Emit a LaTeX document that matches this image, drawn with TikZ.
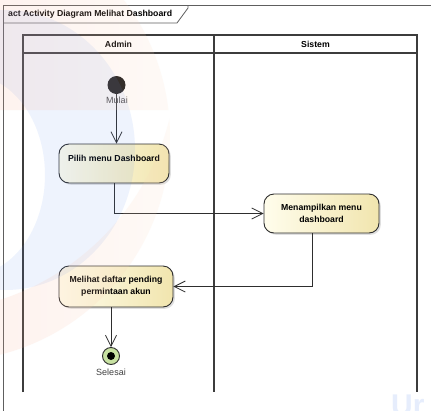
\documentclass[tikz,border=0pt]{standalone}
\usepackage{fontspec}
\setmainfont{Liberation Sans}
\usetikzlibrary{arrows.meta,shadows}

\definecolor{actlight}{HTML}{FFFDEC}
\definecolor{actdark}{HTML}{F1E5AE}
\definecolor{edgecol}{HTML}{2E2E2E}
\definecolor{lanecol}{HTML}{3C3C3C}
\definecolor{framecol}{HTML}{5E5E5E}
\definecolor{labelcol}{HTML}{404040}
\definecolor{finalfill}{HTML}{C8E2A2}
\definecolor{wmblue}{HTML}{5C8CF0}
\definecolor{wmred}{HTML}{F04A2A}
\definecolor{wmorange}{HTML}{F7B070}

\begin{document}
\begin{tikzpicture}[x=1pt,y=-1pt,
  action/.style={draw=edgecol, line width=0.9pt, rounded corners=10pt,
    left color=actlight, right color=actdark,
    drop shadow={shadow xshift=1.8pt, shadow yshift=-1.8pt, opacity=0.25},
    font=\bfseries\fontsize{8.7}{12}\selectfont, align=center, inner sep=0pt},
  flow/.style={draw=edgecol, line width=0.8pt,
    -{Straight Barb[length=11pt,width=11pt]}},
  lane/.style={draw=lanecol, line width=1.1pt},
  head/.style={font=\bfseries\fontsize{8.7}{10}\selectfont, inner sep=0pt},
  caption/.style={font=\fontsize{9}{10}\selectfont, text=labelcol, inner sep=0pt}]

\useasboundingbox (0,0) rectangle (431,410);
\fill[white] (0,0) rectangle (431,410);

% diagram frame and its name tag
\begin{scope}
  \clip (0,0) rectangle (431,410);
  \draw[framecol, line width=0.8pt] (3,414) -- (3,5) -- (435,5);
  \draw[framecol, line width=0.8pt] (3,23) -- (177,23) -- (188,8) -- (188,5);
\end{scope}
\node[head, anchor=west] (title) at (8,14.5) {act Activity Diagram Melihat Dashboard};

% swimlanes
\draw[lane] (23,392) -- (23,35) -- (417,35) -- (417,392);
\draw[lane] (214,35) -- (214,392);
\draw[lane, line width=1.7pt] (23,53) -- (417,53);
\node[head] (hadmin) at (118.5,44) {Admin};
\node[head] (hsistem) at (315.5,44) {Sistem};

% activity nodes
\node[circle, fill=black!92, minimum size=18pt, inner sep=0pt] (init) at (116.5,85) {};
\node[action, minimum width=110pt, minimum height=39pt, text depth=11pt] (pilih) at (114,163.5) {Pilih menu Dashboard};
\node[action, minimum width=115pt, minimum height=39pt] (menu) at (321.5,213.5) {Menampilkan menu\\dashboard};
\node[action, minimum width=114pt, minimum height=41pt] (lihat) at (116,286.5) {Melihat daftar pending\\permintaan akun};
\node[circle, draw=edgecol, line width=0.9pt, fill=finalfill, minimum size=17pt, inner sep=0pt] (fin) at (111,356) {};
\node[circle, fill=black, minimum size=8pt, inner sep=0pt] (findot) at (fin) {};

% control flows
\draw[flow] (init) -- (init |- pilih.north);
\draw[flow] (pilih.south) |- (menu.west);
\draw[flow] ([xshift=-9.5pt]menu.south) |- (lihat.east);
\draw[flow] (fin |- lihat.south) -- (fin.north);

\node[caption] (mulai) at (117,100.5) {Mulai};
\node[caption] (selesai) at (111,372.5) {Selesai};

% faint logo in the background
\begin{scope}
  \clip (0,0) rectangle (431,410);
  \begin{scope}
    \clip (5,150) ellipse [x radius=130, y radius=140];
    \fill[wmblue, fill opacity=0.10, even odd rule] (-300,-300) rectangle (600,600)
      (-30,175) ellipse [x radius=75, y radius=100];
  \end{scope}
  \begin{scope}
    \clip (-55,136.5) circle [radius=225];
    \shade[even odd rule, opacity=0.14, left color=wmred, right color=wmorange!40!white]
      (0,110) rectangle (180,410) (-78,57) circle [radius=255];
  \end{scope}
  \node[anchor=base west, inner sep=0pt, text=wmblue, opacity=0.15,
    font=\bfseries\fontsize{30}{30}\selectfont] (logotext) at (391,415) {Ur};
\end{scope}
\end{tikzpicture}
\end{document}
